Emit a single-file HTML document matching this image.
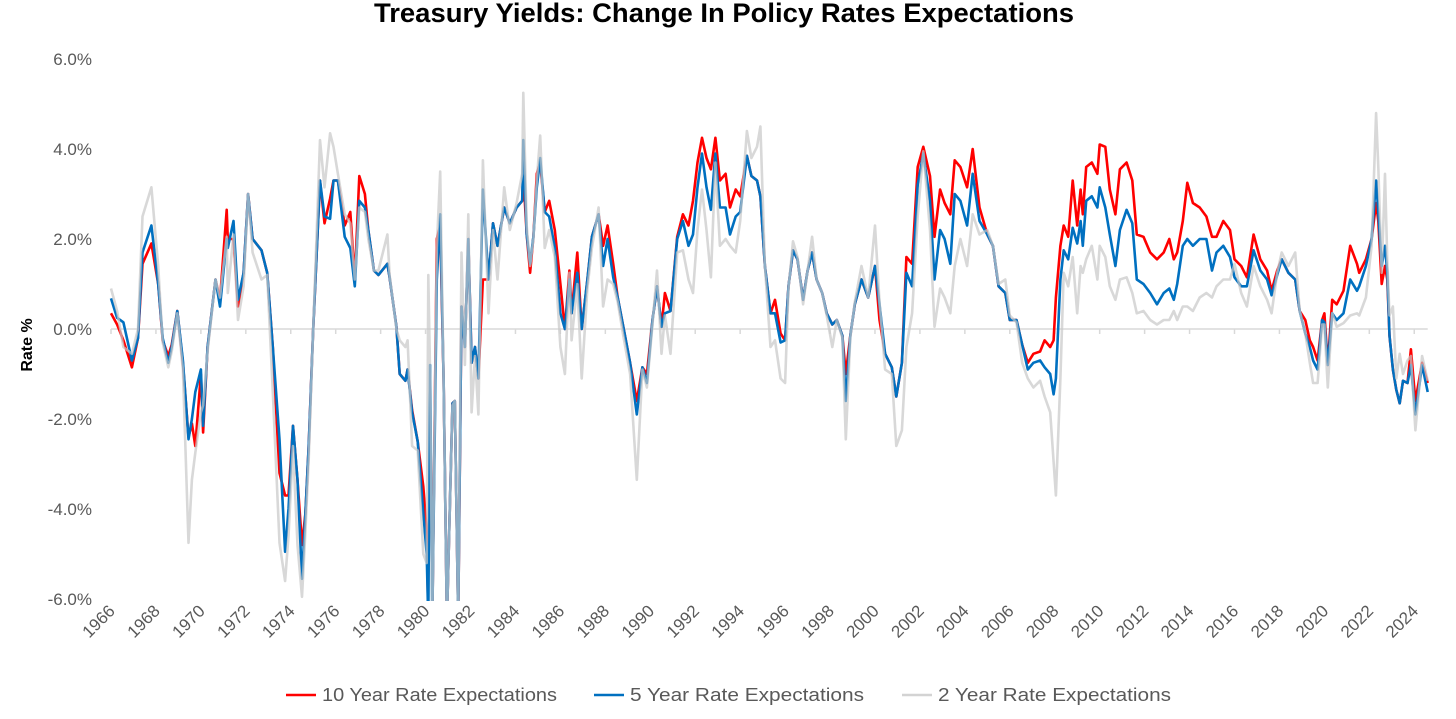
<!DOCTYPE html>
<html><head><meta charset="utf-8"><style>
html,body{margin:0;padding:0;background:#fff;}
svg text{font-family:"Liberation Sans",sans-serif;}
</style></head><body>
<svg id="chart" width="1456" height="714" viewBox="0 0 1456 714" xmlns="http://www.w3.org/2000/svg">
<defs><clipPath id="plotclip"><rect x="100" y="55" width="1340" height="546"/></clipPath></defs>
<text x="724" y="22" text-anchor="middle" font-size="27" font-weight="bold" fill="#000" textLength="700" lengthAdjust="spacingAndGlyphs">Treasury Yields: Change In Policy Rates Expectations</text>
<text transform="translate(32,345) rotate(-90)" text-anchor="middle" font-size="16" font-weight="bold" fill="#000">Rate %</text>
<g id="yaxis"></g>
<g id="xaxis"></g>
<g id="series" clip-path="url(#plotclip)"></g>
<g>
<line x1="286" y1="695" x2="316" y2="695" stroke="#FF0000" stroke-width="2.5"/>
<text x="322" y="701" font-size="18" fill="#595959" textLength="235" lengthAdjust="spacingAndGlyphs">10 Year Rate Expectations</text>
<line x1="594" y1="695" x2="624" y2="695" stroke="#0070C0" stroke-width="2.5"/>
<text x="630" y="701" font-size="18" fill="#595959" textLength="234" lengthAdjust="spacingAndGlyphs">5 Year Rate Expectations</text>
<line x1="902" y1="695" x2="932" y2="695" stroke="#D3D3D3" stroke-width="2.5"/>
<text x="938" y="701" font-size="18" fill="#595959" textLength="233" lengthAdjust="spacingAndGlyphs">2 Year Rate Expectations</text>
</g>
</svg>
<script>
const dates=[1966.0,1966.27,1966.55,1966.93,1967.2,1967.4,1967.8,1968.1,1968.3,1968.55,1968.7,1968.95,1969.2,1969.45,1969.6,1969.75,1970.0,1970.1,1970.3,1970.65,1970.85,1971.15,1971.2,1971.45,1971.65,1971.9,1972.1,1972.3,1972.7,1972.95,1973.2,1973.5,1973.75,1973.9,1974.1,1974.3,1974.5,1974.65,1974.8,1975.0,1975.3,1975.5,1975.75,1975.9,1976.1,1976.4,1976.65,1976.85,1977.05,1977.3,1977.45,1977.7,1977.9,1978.3,1978.4,1978.7,1978.85,1979.1,1979.2,1979.4,1979.65,1979.9,1980.05,1980.12,1980.2,1980.3,1980.5,1980.65,1980.8,1980.95,1981.2,1981.3,1981.45,1981.6,1981.75,1981.9,1982.05,1982.2,1982.35,1982.55,1982.8,1983.0,1983.2,1983.5,1983.75,1984.05,1984.3,1984.35,1984.5,1984.65,1984.8,1984.95,1985.1,1985.3,1985.5,1985.75,1986.0,1986.2,1986.4,1986.5,1986.75,1986.95,1987.2,1987.4,1987.7,1987.9,1988.1,1988.35,1988.55,1988.8,1989.1,1989.4,1989.65,1989.85,1990.1,1990.3,1990.5,1990.65,1990.9,1991.2,1991.45,1991.7,1991.9,1992.1,1992.3,1992.5,1992.7,1992.9,1993.1,1993.35,1993.55,1993.8,1994.0,1994.3,1994.5,1994.75,1994.9,1995.1,1995.35,1995.55,1995.8,1996.0,1996.15,1996.35,1996.55,1996.8,1997.0,1997.2,1997.4,1997.65,1997.85,1998.1,1998.3,1998.55,1998.7,1998.9,1999.1,1999.4,1999.7,2000.0,2000.2,2000.45,2000.75,2000.95,2001.2,2001.4,2001.65,2001.9,2002.15,2002.45,2002.65,2002.9,2003.1,2003.35,2003.55,2003.8,2004.1,2004.35,2004.65,2005.0,2005.25,2005.5,2005.8,2006.0,2006.3,2006.55,2006.8,2007.05,2007.35,2007.55,2007.8,2007.95,2008.05,2008.25,2008.4,2008.6,2008.8,2009.0,2009.15,2009.25,2009.4,2009.65,2009.9,2010.0,2010.25,2010.45,2010.7,2010.9,2011.2,2011.45,2011.65,2011.95,2012.25,2012.55,2012.85,2013.1,2013.3,2013.45,2013.7,2013.9,2014.15,2014.45,2014.75,2015.0,2015.2,2015.5,2015.8,2016.0,2016.3,2016.55,2016.85,2017.15,2017.45,2017.65,2017.9,2018.1,2018.4,2018.7,2018.9,2019.15,2019.35,2019.5,2019.7,2019.9,2020.0,2020.15,2020.35,2020.55,2020.85,2021.15,2021.45,2021.55,2021.85,2022.1,2022.3,2022.4,2022.55,2022.7,2022.8,2022.9,2023.05,2023.2,2023.35,2023.5,2023.7,2023.85,2024.05,2024.35,2024.6];
const tenYear=[.35,.1,-.25,-.85,-.2,1.45,1.9,1.0,-.25,-.6,-.35,.4,-.75,-2.4,-2.1,-2.6,-1.0,-2.3,-.4,1.1,.65,2.65,2.0,2.0,.5,1.25,3.0,2.0,1.75,1.25,-.4,-3.2,-3.7,-3.7,-2.15,-3.35,-4.8,-4.1,-2.6,0,3.3,2.35,2.9,3.3,3.3,2.3,2.6,1.1,3.4,3.0,2.2,1.3,1.2,1.45,1.15,.05,-1.0,-1.15,-.9,-1.8,-2.5,-3.5,-4.5,-6.5,-6.5,-6.5,2.0,2.3,-1.1,-6.5,-1.65,-1.6,-6.5,.5,-.4,2.0,-.75,-.4,-1.1,1.1,1.1,2.35,1.85,2.7,2.35,2.7,2.85,3.45,2.1,1.25,2.05,3.45,3.7,2.6,2.85,2.2,1.0,0,1.3,.35,1.7,0,1.1,2.05,2.55,1.85,2.3,1.45,.7,.05,-.75,-1.6,-.85,-1.0,.2,.95,.05,.8,.4,2.05,2.55,2.3,2.85,3.7,4.25,3.8,3.55,4.25,3.3,3.45,2.7,3.1,2.95,3.85,3.4,3.3,2.95,1.4,.35,.65,-.1,-.25,.95,1.75,1.55,.65,1.3,1.7,1.1,.8,.35,.1,.2,-.15,-1.0,-.15,.55,1.1,.7,1.4,.2,-.55,-.85,-1.5,-.75,1.6,1.45,3.6,4.05,3.4,2.05,3.1,2.8,2.55,3.75,3.6,3.15,4.0,2.7,2.1,1.85,.95,.8,.2,.2,-.35,-.75,-.55,-.5,-.25,-.4,-.25,.7,1.85,2.3,2.05,3.3,2.3,3.1,2.55,3.6,3.7,3.45,4.1,4.05,3.1,2.55,3.55,3.7,3.3,2.1,2.05,1.7,1.55,1.7,2.0,1.55,1.7,2.4,3.25,2.8,2.7,2.5,2.05,2.05,2.4,2.2,1.55,1.4,1.15,2.1,1.55,1.3,.85,1.3,1.55,1.25,1.1,.4,.2,-.25,-.4,-.7,.2,.35,-.8,.65,.55,.85,1.85,1.45,1.25,1.55,2.0,2.8,2.4,1.0,1.4,1.1,-.15,-.9,-1.35,-1.65,-1.15,-1.2,-.45,-1.6,-.75,-1.2];
const fiveYear=[.68,.25,.15,-.7,-.2,1.7,2.3,1.0,-.2,-.75,-.4,.4,-.7,-2.45,-2.0,-1.4,-.9,-2.15,-.4,1.1,.5,2.0,1.8,2.4,.65,1.25,3.0,2.0,1.75,1.25,-.4,-2.45,-4.95,-4.0,-2.15,-3.35,-5.55,-4.1,-2.6,0,3.3,2.5,2.45,3.3,3.3,2.05,1.8,.95,2.85,2.7,2.2,1.3,1.2,1.45,1.15,.05,-1.0,-1.15,-.9,-1.85,-2.5,-4.1,-5.0,-6.5,-.8,-6.5,1.1,2.55,-1.1,-6.5,-1.65,-1.6,-6.5,.5,-.4,2.0,-.75,-.4,-1.1,3.1,1.1,2.35,1.85,2.7,2.35,2.7,2.85,4.2,2.1,1.45,2.05,3.15,3.8,2.6,2.5,1.8,.35,0,1.1,.35,1.25,0,1.1,2.05,2.55,1.4,2.0,1.15,.7,.05,-.75,-1.9,-.85,-1.2,.2,.95,.05,.35,.4,2.0,2.4,1.85,2.1,3.15,3.9,3.15,2.65,3.9,2.7,2.7,2.1,2.5,2.6,3.85,3.4,3.3,2.95,1.4,.35,.35,-.3,-.25,.95,1.75,1.55,.65,1.3,1.7,1.1,.8,.35,.1,.2,-.15,-1.6,-.15,.55,1.1,.7,1.4,.55,-.55,-.85,-1.5,-.75,1.25,.95,3.2,3.9,2.85,1.1,2.2,2.0,1.45,3.0,2.85,2.3,3.45,2.4,2.1,1.85,.95,.8,.2,.2,-.35,-.9,-.75,-.7,-.85,-1.0,-1.45,-1.1,1.1,1.75,1.55,2.25,1.9,2.4,1.85,2.85,2.95,2.7,3.15,2.7,2.1,1.4,2.2,2.65,2.35,1.1,1.0,.8,.55,.8,.9,.65,1.0,1.85,2.0,1.85,2.0,2.0,1.3,1.7,1.85,1.6,1.15,.95,.95,1.75,1.3,1.1,.75,1.2,1.55,1.25,1.1,.4,-.1,-.4,-.7,-.9,.2,.15,-.8,.35,.2,.35,1.1,.85,.95,1.4,2.0,3.3,2.6,1.4,1.85,1.25,-.15,-.9,-1.35,-1.65,-1.15,-1.2,-.8,-1.9,-.8,-1.4];
const twoYear=[.9,.4,-.4,-.55,0,2.5,3.15,1.4,-.3,-.85,-.5,.35,-.9,-4.75,-3.35,-2.75,-1.85,-1.7,-.5,1.1,.7,2.05,.8,2.1,.2,.95,3.0,1.7,1.1,1.2,-1.4,-4.75,-5.6,-4.6,-2.6,-4.8,-5.95,-4.5,-2.9,0,4.2,3.15,4.35,4.05,3.45,2.55,2.35,1.1,2.7,2.6,2.0,1.3,1.3,2.1,1.2,0,-.25,-.4,-.25,-2.6,-2.7,-5.0,-5.2,1.2,-1.0,-6.5,1.8,3.5,-1.1,-6.5,-1.7,-1.6,-6.5,1.7,-.8,2.55,-1.85,-.6,-1.9,3.75,.35,2.2,1.1,3.15,2.2,2.8,3.45,5.25,2.3,1.4,2.0,3.3,4.3,1.8,2.2,1.6,-.4,-1.0,1.25,-.25,1.0,-1.1,.9,1.8,2.7,.5,1.1,1.0,.6,-.15,-1.0,-3.35,-.9,-1.3,.1,1.3,-.55,.3,-.55,1.7,1.75,1.1,.8,2.2,3.1,2.2,1.15,3.7,1.85,2.0,1.85,1.7,2.4,4.4,3.8,4.05,4.5,1.4,-.4,-.25,-1.1,-1.2,.9,1.95,1.6,.55,1.3,2.05,1.1,.8,.3,-.4,.2,-.2,-2.45,-.2,.6,1.4,.7,2.3,.6,-.9,-1.0,-2.6,-2.25,-.4,.35,2.5,3.95,2.2,.05,.9,.7,.35,1.4,2.0,1.4,2.55,2.1,2.2,1.85,1.0,1.1,.3,.15,-.75,-1.1,-1.3,-1.15,-1.5,-1.85,-2.95,-3.7,-1.1,1.25,.95,1.6,.35,1.4,1.25,1.55,1.85,1.1,1.85,1.6,.95,.65,1.1,1.15,.8,.35,.4,.2,.1,.2,.2,.4,.2,.5,.5,.4,.7,.8,.7,.95,1.1,1.1,1.45,.8,.5,1.4,.95,.65,.35,1.25,1.7,1.4,1.7,.4,-.1,-.75,-1.2,-1.2,.1,.1,-1.3,.35,.05,.13,.3,.35,.3,.7,1.85,4.8,3.6,1.25,3.45,1.5,.3,.5,-1.1,-.55,-1.0,-.7,-.6,-2.25,-.6,-1.15];
const yTicks=[6,4,2,0,-2,-4,-6];
const xTickYears=[1966,1968,1970,1972,1974,1976,1978,1980,1982,1984,1986,1988,1990,1992,1994,1996,1998,2000,2002,2004,2006,2008,2010,2012,2014,2016,2018,2020,2022,2024];

const NS='http://www.w3.org/2000/svg';
function xScale(yr){return 111+22.47*(yr-1966);}
function yScale(v){return 329-45*v;}
function mk(tag,attrs,parent){const e=document.createElementNS(NS,tag);for(const k in attrs)e.setAttribute(k,attrs[k]);parent.appendChild(e);return e;}

const yg=document.getElementById('yaxis');
yTicks.forEach(v=>{
  const t=mk('text',{x:92,y:yScale(v)+6,'text-anchor':'end','font-size':17,fill:'#595959'},yg);
  
  
  t.textContent=v.toFixed(1)+'%';
});
const xg=document.getElementById('xaxis');
const zl=mk('line',{x1:xScale(1966),y1:yScale(0),x2:xScale(2024.6),y2:yScale(0),stroke:'#D9D9D9','stroke-width':1.5},xg);


xTickYears.forEach(yr=>{
  const x=xScale(yr);
  const tk=mk('line',{x1:x,y1:yScale(0),x2:x,y2:yScale(0)+5,stroke:'#D9D9D9','stroke-width':1.5},xg);
  
  
  const t=mk('text',{x:0,y:0,'text-anchor':'end','font-size':17,fill:'#595959',transform:'translate('+(x+5)+',612) rotate(-45)'},xg);
  
  
  t.textContent=yr;
});
const sg=document.getElementById('series');
function drawLine(vals,color,name,op){
  let d='';
  vals.forEach((v,i)=>{d+=(i?'L':'M')+xScale(dates[i]).toFixed(1)+','+yScale(v).toFixed(1);});
  const p=mk('path',{d:d,fill:'none',stroke:color,'stroke-width':2.6,'stroke-linejoin':'round',opacity:op},sg);
  
  
}
drawLine(tenYear,'#FF0000','line-10-year',1);
drawLine(fiveYear,'#0070C0','line-5-year',1);
drawLine(twoYear,'#C8C8C8','line-2-year',0.7);
</script>
</body></html>
